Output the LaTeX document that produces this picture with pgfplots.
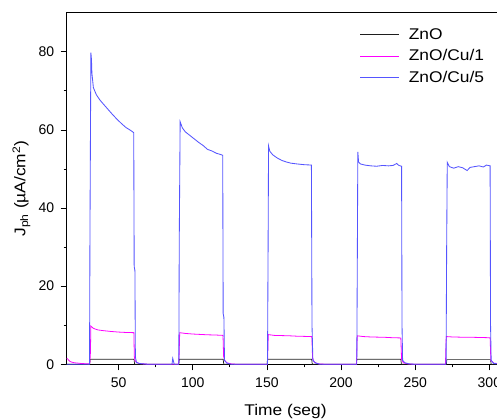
\documentclass[border=0pt]{standalone}
\usepackage{pgfplots}
\pgfplotsset{compat=1.18}
\usepackage{fontspec}
\setmainfont{Liberation Sans}[FakeStretch=1.12]
\newfontfamily\tickfont{Liberation Sans}
\definecolor{cblue}{RGB}{85,85,255}
\definecolor{cmag}{RGB}{255,0,255}
\definecolor{cblk}{RGB}{30,30,30}
\begin{document}
\begin{tikzpicture}
\begin{axis}[
  name=ax,
  at={(0,0)}, anchor=south west,
  scale only axis,
  width=437.5bp, height=351.6bp,
  xmin=15, xmax=310, ymin=0, ymax=90,
  xtick={50,100,150,200,250,300},
  ytick={0,20,40,60,80},
  minor x tick num=1, minor y tick num=1,
  xtick pos=bottom, ytick pos=left,
  tick align=outside,
  major tick length=6bp, minor tick length=3bp,
  every tick/.style={black, line width=0.8bp},
  axis line style={black, line width=0.9bp},
  /pgf/number format/assume math mode=true,
  tick label style={font=\tickfont\fontsize{14bp}{16bp}\selectfont},
  xticklabel style={yshift=-4bp},
  yticklabel style={xshift=-3bp},
  xlabel={Time (seg)},
  ylabel={J\textsubscript{ph} (µA/cm\textsuperscript{2})},
  label style={font=\fontsize{15.5bp}{18bp}\selectfont},
  xlabel style={at={(axis description cs:0.5,0)}, anchor=north, yshift=-39.5bp, inner sep=0pt},
  ylabel style={at={(axis description cs:-0.0823,0.5)}, anchor=south, inner sep=0pt},
  legend style={draw=none, fill=none, at={(rel axis cs:0.67,0.962)}, anchor=north west,
    font=\fontsize{15.5bp}{18bp}\selectfont, row sep=5bp, column sep=7bp, inner sep=0pt},
  legend cell align=left,
  legend image code/.code={\draw[#1] (0bp,0bp) -- (39bp,0bp);},
]
\addplot[cblk, line width=0.7bp] coordinates {
(15,0)(30.5,0)(30.8,1.3)(60.4,1.3)(60.8,0)(90.6,0)(90.9,1.3)(120.5,1.3)(120.9,0)
(150.1,0)(150.4,1.3)(180.2,1.3)(180.6,0)(210.3,0)(210.6,1.3)(240.3,1.3)(240.7,0)
(271.0,0)(271.3,1.2)(300.8,1.2)(301.2,0)(310,0)};
\addlegendentry{ZnO}
\addplot[cmag, line width=0.8bp] coordinates {
(15,1.6)(16,1.2)(17,0.8)(18,0.6)(20,0.4)(25,0.2)(30,0.1)(30.6,0.3)(31,3.0)(31.3,9.8)
(33,9.2)(36,8.8)(40,8.6)(45,8.4)(50,8.25)(55,8.15)(60.3,8.1)(60.6,2)(61,1)(62,0.5)(64,0.2)(70,0)
(90.4,0)(90.8,2.5)(91.2,8.1)(95,7.9)(100,7.75)(105,7.65)(110,7.55)(115,7.5)(120.4,7.4)
(120.8,2)(121.5,1)(123,0.4)(126,0.1)(130,0)
(150.4,0)(150.9,7.6)(155,7.4)(160,7.35)(165,7.3)(170,7.2)(175,7.15)(180.3,7.1)
(180.8,1.5)(182,0.5)(185,0.1)(190,0)
(210.4,0)(210.9,7.3)(215,7.1)(220,7.0)(225,6.95)(230,6.9)(235,6.8)(240.3,6.75)
(240.8,1.2)(242,0.4)(245,0.1)(250,0)
(270.4,0)(270.9,7.1)(275,7.0)(280,6.95)(290,6.9)(300.5,6.8)(301,1)(303,0.3)(310,0)};
\addlegendentry{ZnO/Cu/1}
\addplot[cblue, line width=0.85bp] coordinates {
(15,0)(30.4,0)(30.7,35)(31.3,79.8)(31.7,78)(32,74.5)(33,70.8)(35,69)(37.5,67.6)(40,66.5)
(43,65.2)(46,63.9)(49,62.7)(52,61.6)(55,60.6)(58,59.9)(60.2,59.3)(60.5,25)(61,24)(61.3,2)
(62,0.5)(64,0.2)(70,0)(86,0)(86.5,1.5)(87.5,0)
(90.6,0)(90.9,32)(91.5,62.1)(93,60.5)(95,59.5)(98,58.6)(101,57.7)(104,56.8)(107,56)
(110,55)(113,54.6)(116,54)(118,53.8)(120.2,53.5)(120.5,13)(121,12)(121.4,1)(123,0.3)(126,0)
(150.4,0)(150.8,30)(151.1,55.9)(152,54.5)(154,53.6)(157,52.8)(160,52.2)(163,51.8)(166,51.5)
(170,51.3)(175,51.1)(180,51.0)(180.4,10)(181,1)(183,0.3)(186,0)
(210.6,0)(211,30)(211.3,54.4)(211.8,51.8)(213,51.3)(216,51)(220,50.8)(224,50.7)(228,50.9)
(232,50.8)(235,50.9)(237.5,51.4)(239,50.9)(240.8,50.7)(241.1,10)(241.5,1)(243,0.4)(246,0.1)(250,0)
(270.8,0)(271.2,30)(271.6,51.7)(273,50.6)(276,50.2)(279,50.6)(282,50.3)(285,49.6)(287,50.4)
(290,50.6)(293,50.8)(296,50.5)(298,51.0)(300.5,50.8)(300.8,10)(301.2,1)(303,0.2)(310,0)};
\addlegendentry{ZnO/Cu/5}
\end{axis}
\pgfresetboundingbox
\useasboundingbox (-66.7bp,-54.7bp) rectangle (430.3bp,364.3bp);
\end{tikzpicture}
\end{document}
